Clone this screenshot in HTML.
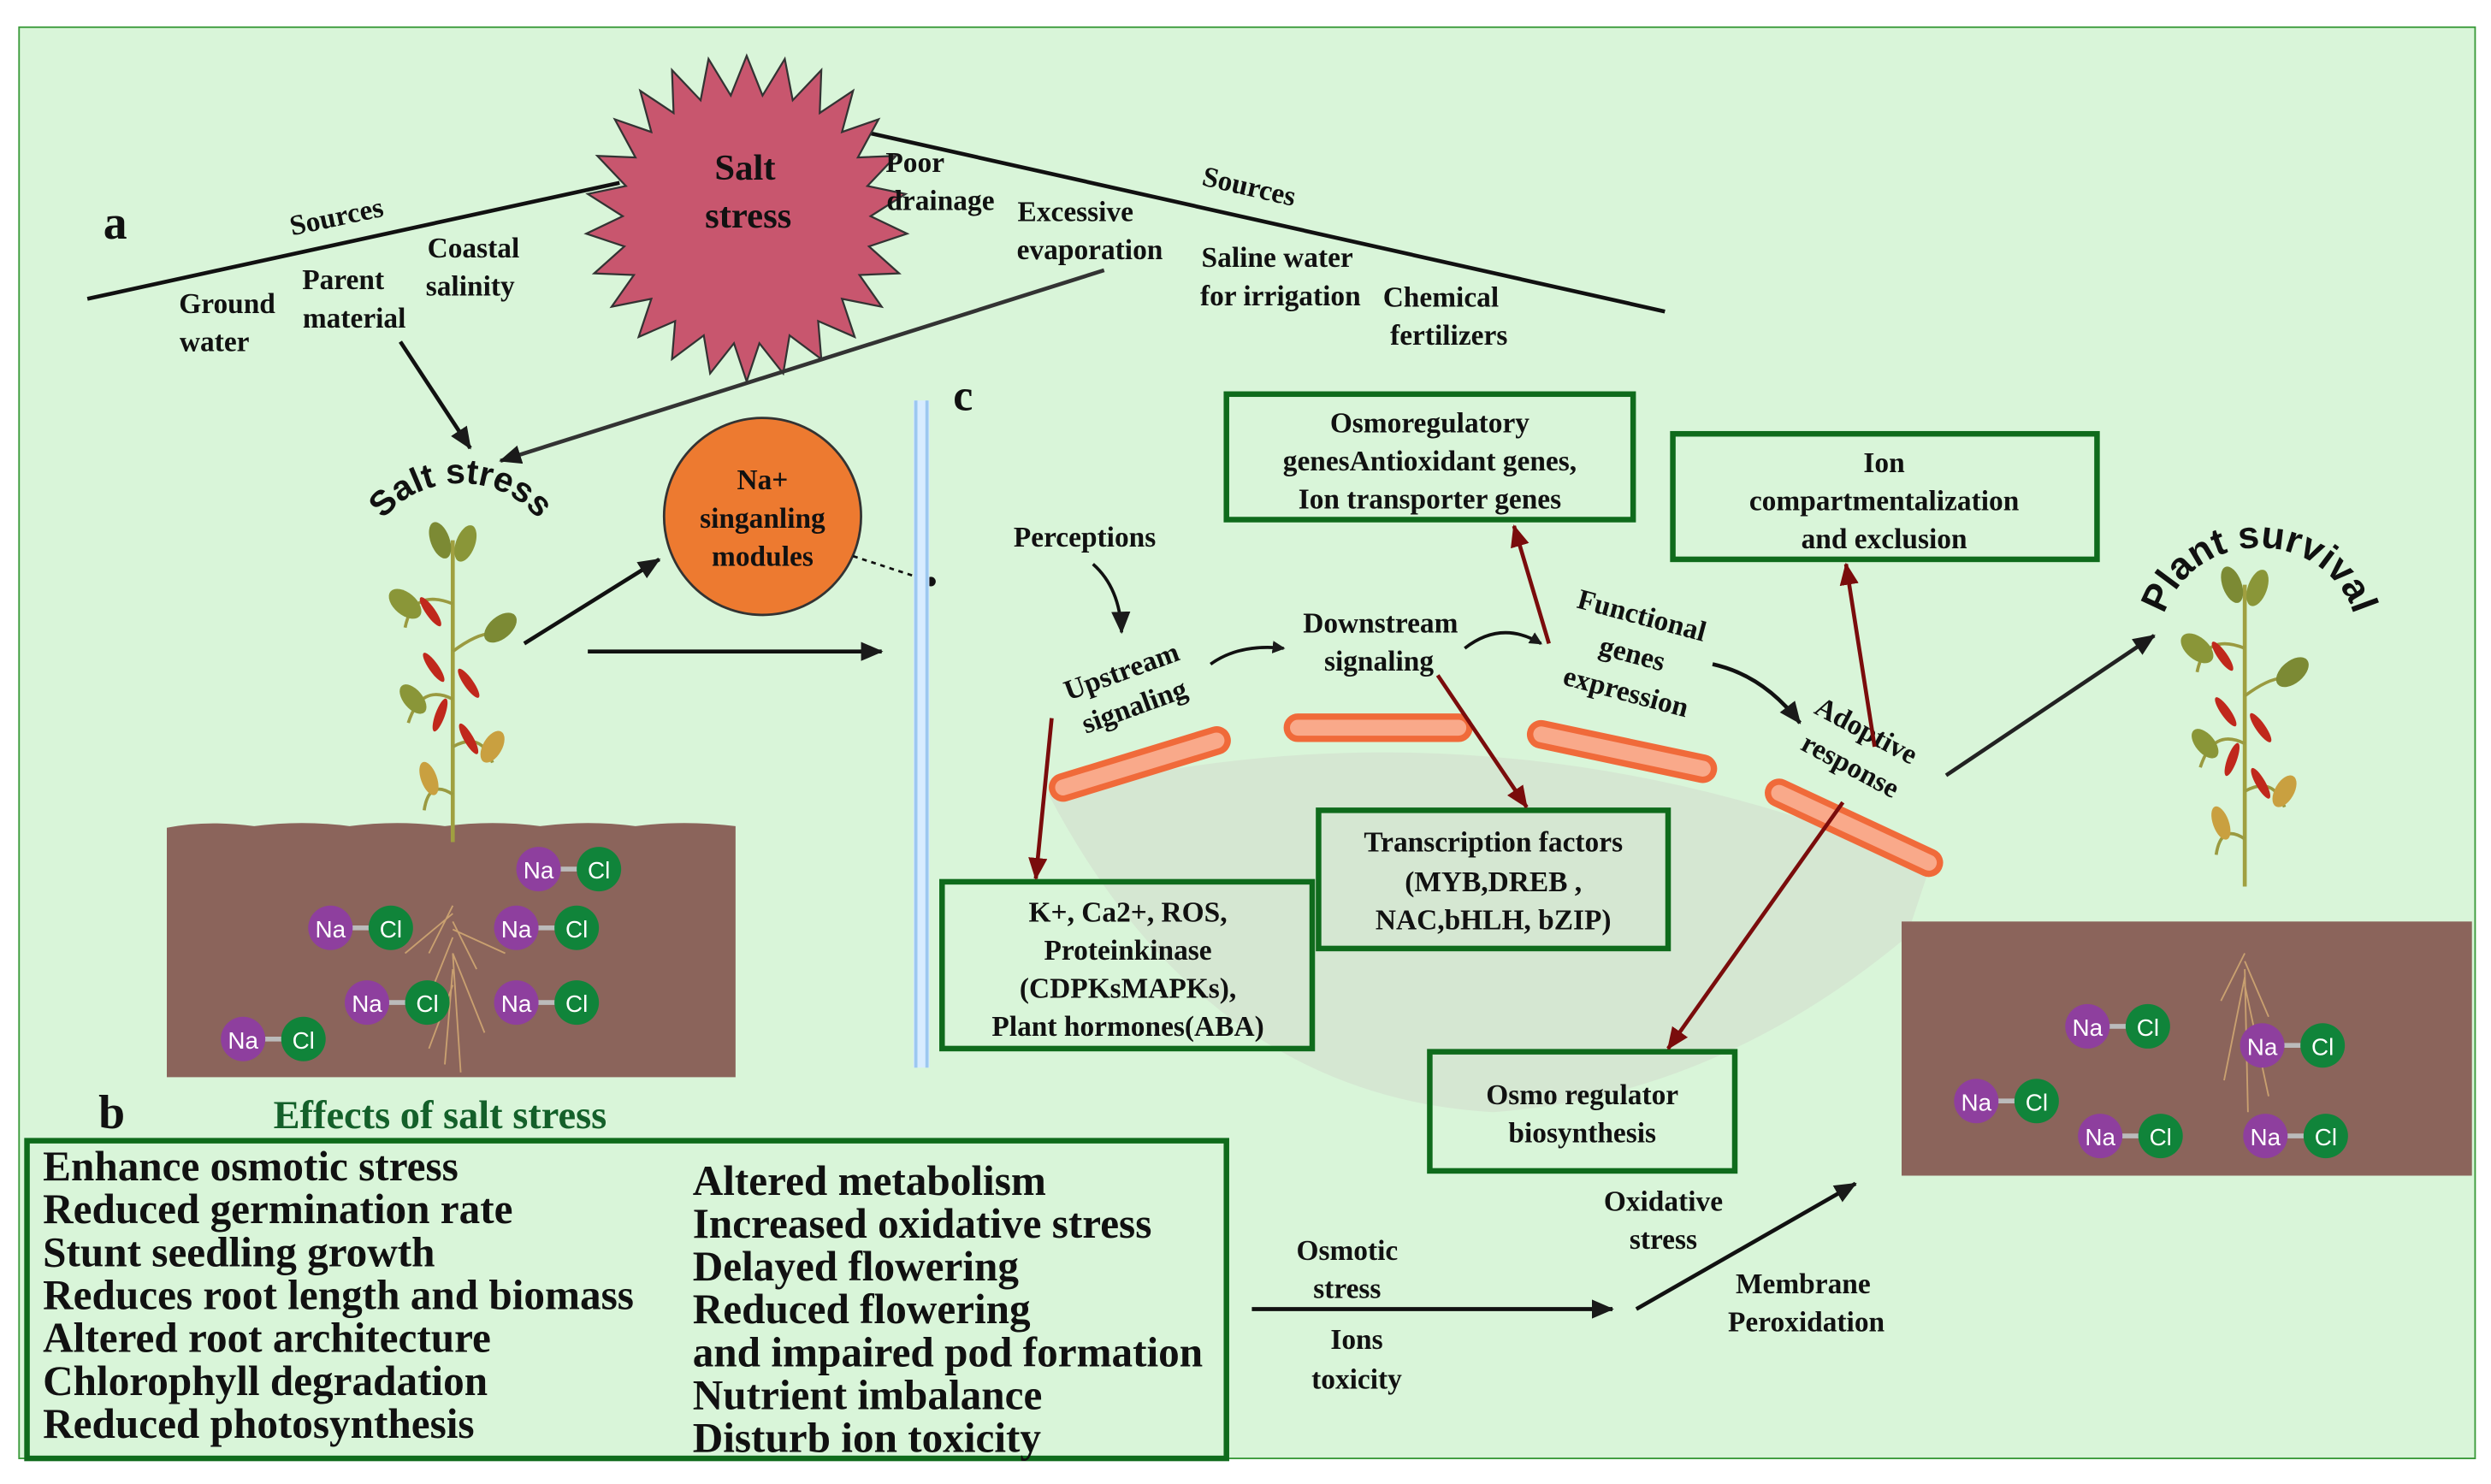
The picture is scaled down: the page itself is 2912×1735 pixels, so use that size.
<!DOCTYPE html>
<html><head><meta charset="utf-8"><style>
html,body{margin:0;padding:0;background:#fff;}
svg{display:block;}
text{font-family:"Liberation Serif",serif;font-weight:bold;fill:#111;}
</style></head><body>
<svg width="2912" height="1735" viewBox="0 0 1568 934" xmlns="http://www.w3.org/2000/svg">
<defs>
<marker id="ab" markerWidth="8" markerHeight="8" refX="7" refY="4" orient="auto" markerUnits="userSpaceOnUse" viewBox="0 0 8 8"><path d="M0,0 L8,4 L0,8 Z" fill="#1a1a1a"/></marker>
<marker id="ab2" markerWidth="14" markerHeight="14" refX="13" refY="7" orient="auto" markerUnits="userSpaceOnUse" viewBox="0 0 14 14"><path d="M0,1 L14,7 L0,13 Z" fill="#1a1a1a"/></marker>
<marker id="ar" markerWidth="14" markerHeight="14" refX="13" refY="7" orient="auto" markerUnits="userSpaceOnUse" viewBox="0 0 14 14"><path d="M0,1 L14,7 L0,13 Z" fill="#7a0c0c"/></marker>
<g id="nacl"><line x1="0" y1="0" x2="38" y2="0" stroke="#bbb" stroke-width="3"/><circle cx="0" cy="0" r="14" fill="#8e3f9e"/><circle cx="38" cy="0" r="14" fill="#10843a"/><text x="0" y="6" font-size="15" text-anchor="middle" style="font-family:'Liberation Sans',sans-serif;font-weight:normal;fill:#fff">Na</text><text x="38" y="6" font-size="15" text-anchor="middle" style="font-family:'Liberation Sans',sans-serif;font-weight:normal;fill:#fff">Cl</text></g>
<g id="plant">
<line x1="0" y1="0" x2="0" y2="190" stroke="#a0a040" stroke-width="2.5"/>
<path d="M0,40 Q-25,30 -30,55 M0,70 Q20,55 30,60 M0,100 Q-20,90 -28,115 M0,130 Q18,120 25,140 M0,160 Q-15,150 -18,170" stroke="#9a9a40" stroke-width="2" fill="none"/>
<ellipse cx="-8" cy="0" rx="6" ry="12" fill="#7c8a34" transform="rotate(-20 -8 0)"/>
<ellipse cx="8" cy="2" rx="6" ry="12" fill="#8a9638" transform="rotate(20 8 2)"/>
<ellipse cx="-30" cy="40" rx="7" ry="12" fill="#8a9638" transform="rotate(-50 -30 40)"/>
<ellipse cx="30" cy="55" rx="7" ry="12" fill="#7c8a34" transform="rotate(50 30 55)"/>
<ellipse cx="-25" cy="100" rx="6" ry="11" fill="#8a9638" transform="rotate(-40 -25 100)"/>
<ellipse cx="25" cy="130" rx="6" ry="11" fill="#c9a040" transform="rotate(30 25 130)"/>
<ellipse cx="-15" cy="150" rx="5" ry="11" fill="#c9a040" transform="rotate(-20 -15 150)"/>
<ellipse cx="-14" cy="45" rx="3" ry="11" fill="#c0281c" transform="rotate(-35 -14 45)"/>
<ellipse cx="-12" cy="80" rx="3" ry="11" fill="#c0281c" transform="rotate(-35 -12 80)"/>
<ellipse cx="10" cy="90" rx="3" ry="11" fill="#c0281c" transform="rotate(-35 10 90)"/>
<ellipse cx="-8" cy="110" rx="3" ry="11" fill="#c0281c" transform="rotate(20 -8 110)"/>
<ellipse cx="10" cy="125" rx="3" ry="11" fill="#c0281c" transform="rotate(-30 10 125)"/>
</g>
</defs>
<rect x="0" y="0" width="1568" height="934" fill="#fff"/>
<rect x="12" y="17" width="1546" height="901" fill="#d9f5d9" stroke="#3a9a3a" stroke-width="1"/>

<path d="M660,500 Q940,430 1215,545 L1200,590 Q1080,690 940,700 Q760,690 660,500 Z" fill="#d5e7d2"/>

<line x1="55" y1="188" x2="390" y2="115" stroke="#111" stroke-width="2.5"/>
<line x1="540" y1="82" x2="1048" y2="196" stroke="#111" stroke-width="2.5"/>
<polygon fill="#c8566e" stroke="#333" stroke-width="1.2" points="
470,35 480,60 494,37 499,63 517,44 516,71 537,57 530,83 553,75 540,99 564,98 546,117 570,122 548,136 571,147 547,155 566,172 541,173 555,193 530,188 538,212 515,202 517,226 497,211 493,235 478,216 470,240 462,216 447,235 443,211 423,226 425,202 402,212 410,188 385,193 399,173 374,172 393,155 369,147 392,136 370,122 394,117 376,98 400,99 387,75 410,83 403,57 424,71 423,44 441,63 446,37 460,60"/>
<text x="469" y="113" font-size="23" text-anchor="middle">Salt</text>
<text x="471" y="143" font-size="23" text-anchor="middle">stress</text>

<text x="65" y="150" font-size="30">a</text>
<text x="213" y="142" font-size="18" text-anchor="middle" transform="rotate(-12 213 142)">Sources</text>
<text x="785" y="123" font-size="18" text-anchor="middle" transform="rotate(13 785 123)">Sources</text>
<g font-size="18" text-anchor="middle">
<text x="143" y="197">Ground</text><text x="135" y="221">water</text>
<text x="216" y="182">Parent</text><text x="223" y="206">material</text>
<text x="298" y="162">Coastal</text><text x="296" y="186">salinity</text>
<text x="576" y="108">Poor</text><text x="592" y="132">drainage</text>
<text x="677" y="139">Excessive</text><text x="686" y="163">evaporation</text>
<text x="804" y="168">Saline water</text><text x="806" y="192">for irrigation</text>
<text x="907" y="193">Chemical</text><text x="912" y="217">fertilizers</text>
</g>
<line x1="252" y1="215" x2="296" y2="282" stroke="#111" stroke-width="2.5" marker-end="url(#ab2)"/>
<line x1="695" y1="170" x2="315" y2="290" stroke="#333" stroke-width="2.5" marker-end="url(#ab2)"/>

<path id="arc1" d="M232,345 A60 55 0 0 1 348,345" fill="none"/>
<text font-size="22" style="font-family:'Liberation Sans',sans-serif"><textPath href="#arc1" startOffset="50%" text-anchor="middle">Salt stress</textPath></text>

<path d="M105,521 Q130,516 160,520 Q190,516 220,520 Q250,516 280,520 Q310,516 340,520 Q370,516 400,520 Q430,516 463,520 L463,678 L105,678 Z" fill="#8b645b"/>
<use href="#plant" x="285" y="340"/>
<path d="M285,570 L270,600 M285,580 L300,610 M285,590 L265,640 M285,600 L305,650 M285,610 L280,670 M285,575 L255,600 M285,585 L318,600 M285,600 L290,675 M285,620 L270,660" stroke="#c9a070" stroke-width="1" fill="none"/>
<use href="#nacl" x="339" y="547"/>
<use href="#nacl" x="208" y="584"/>
<use href="#nacl" x="325" y="584"/>
<use href="#nacl" x="231" y="631"/>
<use href="#nacl" x="325" y="631"/>
<use href="#nacl" x="153" y="654"/>

<circle cx="480" cy="325" r="62" fill="#ed7a30" stroke="#333" stroke-width="1.5"/>
<text x="480" y="308" font-size="18" text-anchor="middle">Na+</text>
<text x="480" y="332" font-size="18" text-anchor="middle">singanling</text>
<text x="480" y="356" font-size="18" text-anchor="middle">modules</text>
<line x1="537" y1="350" x2="586" y2="366" stroke="#111" stroke-width="1.5" stroke-dasharray="3,3"/>
<circle cx="586" cy="366" r="3" fill="#111"/>
<line x1="330" y1="405" x2="415" y2="352" stroke="#111" stroke-width="2.5" marker-end="url(#ab2)"/>
<line x1="370" y1="410" x2="555" y2="410" stroke="#111" stroke-width="2.5" marker-end="url(#ab2)"/>

<rect x="575" y="252" width="10" height="420" fill="#d8ecff"/>
<line x1="576.5" y1="252" x2="576.5" y2="672" stroke="#9cc8f0" stroke-width="2"/>
<line x1="583.5" y1="252" x2="583.5" y2="672" stroke="#9cc8f0" stroke-width="2"/>

<text x="600" y="258" font-size="28">c</text>
<text x="638" y="344" font-size="18">Perceptions</text>
<path d="M688,355 Q705,370 706,398" stroke="#111" stroke-width="2" fill="none" marker-end="url(#ab2)"/>
<text x="708" y="428" font-size="18" text-anchor="middle" transform="rotate(-20 708 428)">Upstream</text>
<text x="716" y="450" font-size="18" text-anchor="middle" transform="rotate(-20 716 450)">signaling</text>
<path d="M762,418 Q780,405 808,408" stroke="#111" stroke-width="2" fill="none" marker-end="url(#ab)"/>
<text x="869" y="398" font-size="18" text-anchor="middle">Downstream</text>
<text x="868" y="422" font-size="18" text-anchor="middle">signaling</text>
<path d="M922,408 Q945,390 970,405" stroke="#111" stroke-width="2" fill="none" marker-end="url(#ab)"/>
<text x="1032" y="393" font-size="18" text-anchor="middle" transform="rotate(15 1032 393)">Functional</text>
<text x="1026" y="417" font-size="18" text-anchor="middle" transform="rotate(15 1026 417)">genes</text>
<text x="1022" y="441" font-size="18" text-anchor="middle" transform="rotate(15 1022 441)">expression</text>
<path d="M1078,418 Q1110,425 1133,455" stroke="#111" stroke-width="2.5" fill="none" marker-end="url(#ab2)"/>
<text x="1172" y="465" font-size="18" text-anchor="middle" transform="rotate(28 1172 465)">Adoptive</text>
<text x="1162" y="487" font-size="18" text-anchor="middle" transform="rotate(28 1162 487)">response</text>
<line x1="1225" y1="488" x2="1356" y2="400" stroke="#222" stroke-width="2.5" marker-end="url(#ab2)"/>

<g fill="#f9a98a" stroke="#f06a3a" stroke-width="4">
<rect x="660" y="474" width="115" height="14" rx="7" transform="rotate(-17 717 481)"/>
<rect x="810" y="451" width="115" height="14" rx="7"/>
<rect x="962" y="466" width="118" height="14" rx="7" transform="rotate(12 1021 473)"/>
<rect x="1108" y="514" width="118" height="14" rx="7" transform="rotate(25 1167 521)"/>
</g>

<g fill="none" stroke="#0f6b1c" stroke-width="3.5">
<rect x="772" y="248" width="256" height="79"/>
<rect x="1053" y="273" width="267" height="79"/>
<rect x="830" y="510" width="220" height="87"/>
<rect x="593" y="555" width="233" height="105"/>
<rect x="900" y="662" width="192" height="75"/>
<rect x="17" y="718" width="755" height="200"/>
</g>
<g font-size="18" text-anchor="middle">
<text x="900" y="272">Osmoregulatory</text>
<text x="900" y="296">genesAntioxidant genes,</text>
<text x="900" y="320">Ion transporter genes</text>
<text x="1186" y="297">Ion</text>
<text x="1186" y="321">compartmentalization</text>
<text x="1186" y="345">and exclusion</text>
<text x="940" y="536">Transcription factors</text>
<text x="940" y="561">(MYB,DREB ,</text>
<text x="940" y="585">NAC,bHLH, bZIP)</text>
<text x="710" y="580">K+, Ca2+, ROS,</text>
<text x="710" y="604">Proteinkinase</text>
<text x="710" y="628">(CDPKsMAPKs),</text>
<text x="710" y="652">Plant hormones(ABA)</text>
<text x="996" y="695">Osmo regulator</text>
<text x="996" y="719">biosynthesis</text>
</g>

<g stroke="#7a0c0c" stroke-width="2.5" fill="none">
<line x1="975" y1="405" x2="953" y2="331" marker-end="url(#ar)"/>
<line x1="1180" y1="470" x2="1162" y2="355" marker-end="url(#ar)"/>
<line x1="905" y1="425" x2="961" y2="508" marker-end="url(#ar)"/>
<line x1="662" y1="452" x2="652" y2="553" marker-end="url(#ar)"/>
<line x1="1160" y1="505" x2="1050" y2="660" marker-end="url(#ar)"/>
</g>

<path id="arc2" d="M1362,388 A62 58 0 0 1 1482,388" fill="none"/>
<text font-size="24" style="font-family:'Liberation Sans',sans-serif"><textPath href="#arc2" startOffset="50%" text-anchor="middle">Plant survival</textPath></text>
<rect x="1197" y="580" width="359" height="160" fill="#8b645b"/>
<use href="#plant" x="1413" y="368"/>
<path d="M1413,600 L1398,630 M1413,605 L1428,640 M1413,615 L1400,680 M1413,620 L1428,690 M1413,610 L1415,700" stroke="#c9a070" stroke-width="1" fill="none"/>
<use href="#nacl" x="1314" y="646"/>
<use href="#nacl" x="1424" y="658"/>
<use href="#nacl" x="1244" y="693"/>
<use href="#nacl" x="1322" y="715"/>
<use href="#nacl" x="1426" y="715"/>

<text x="62" y="710" font-size="30">b</text>
<text x="277" y="710" font-size="25" text-anchor="middle" style="fill:#14602a">Effects of salt stress</text>
<g font-size="26.5">
<text x="27" y="743">Enhance osmotic stress</text>
<text x="27" y="770">Reduced germination rate</text>
<text x="27" y="797">Stunt seedling growth</text>
<text x="27" y="824">Reduces root length and biomass</text>
<text x="27" y="851">Altered root architecture</text>
<text x="27" y="878">Chlorophyll degradation</text>
<text x="27" y="905">Reduced photosynthesis</text>
<text x="436" y="752">Altered metabolism</text>
<text x="436" y="779">Increased oxidative stress</text>
<text x="436" y="806">Delayed flowering</text>
<text x="436" y="833">Reduced flowering</text>
<text x="436" y="860">and impaired pod formation</text>
<text x="436" y="887">Nutrient imbalance</text>
<text x="436" y="914">Disturb ion toxicity</text>
</g>
<g font-size="18" text-anchor="middle">
<text x="1047" y="762">Oxidative</text><text x="1047" y="786">stress</text>
<text x="848" y="793">Osmotic</text><text x="848" y="817">stress</text>
<text x="854" y="849">Ions</text><text x="854" y="874">toxicity</text>
<text x="1135" y="814">Membrane</text><text x="1137" y="838">Peroxidation</text>
</g>
<line x1="788" y1="824" x2="1015" y2="824" stroke="#111" stroke-width="2.5" marker-end="url(#ab2)"/>
<line x1="1030" y1="824" x2="1168" y2="745" stroke="#111" stroke-width="2.5" marker-end="url(#ab2)"/>
</svg>
</body></html>
